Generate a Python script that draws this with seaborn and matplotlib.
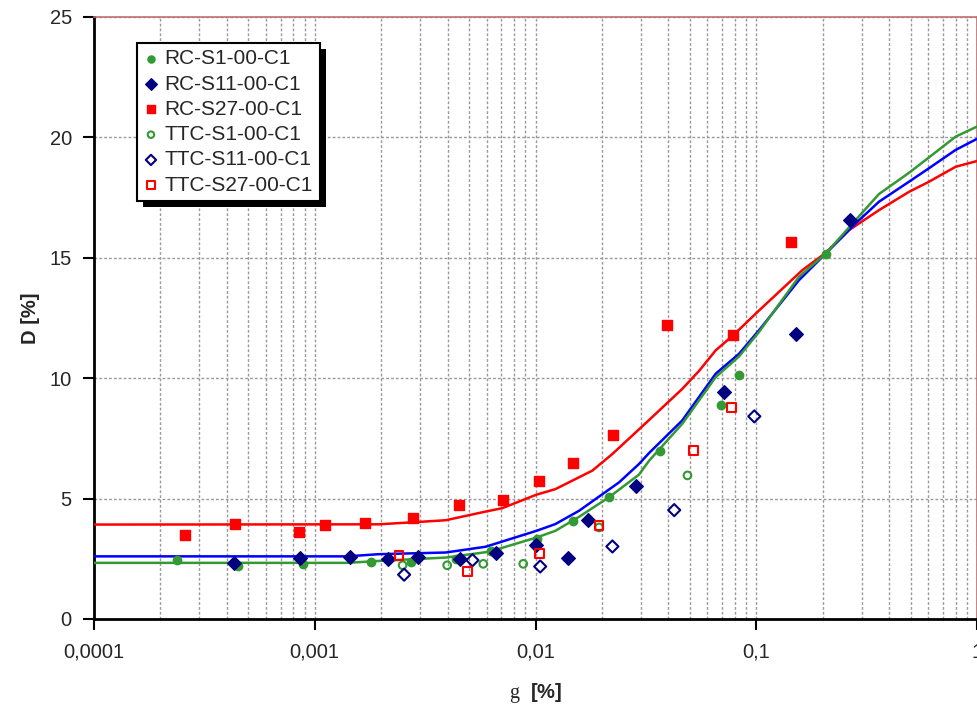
import numpy as np
import pandas as pd
import matplotlib
matplotlib.use("Agg")
import matplotlib.pyplot as plt
import seaborn as sns
from matplotlib.patches import Rectangle
from matplotlib.transforms import IdentityTransform

# ---------------- data ----------------
rc_s1_g = [0.000238, 0.000448, 0.000885, 0.0018, 0.00273, 0.00435, 0.00627, 0.01016, 0.0148, 0.0215, 0.0365, 0.0695, 0.0838, 0.2065]
rc_s1_d = [2.45, 2.2, 2.29, 2.38, 2.38, 2.48, 2.83, 3.33, 4.05, 5.05, 6.96, 8.87, 10.14, 15.13]

rc_s11_g = [0.00043, 0.00086, 0.00144, 0.00215, 0.00294, 0.00455, 0.0066, 0.0101, 0.0140, 0.0173, 0.0284, 0.0717, 0.151, 0.266]
rc_s11_d = [2.34, 2.52, 2.59, 2.51, 2.59, 2.51, 2.76, 3.09, 2.52, 4.1, 5.5, 9.43, 11.83, 16.58]

rc_s27_g = [0.000258, 0.000435, 0.00085, 0.00111, 0.00169, 0.00279, 0.0045, 0.00713, 0.0104, 0.0148, 0.0225, 0.0395, 0.0787, 0.144]
rc_s27_d = [3.48, 3.96, 3.63, 3.9, 3.98, 4.21, 4.73, 4.96, 5.71, 6.46, 7.62, 12.2, 11.78, 15.63]

ttc_s1_g = [0.0025, 0.00398, 0.0058, 0.0088, 0.0194, 0.0488]
ttc_s1_d = [2.23, 2.23, 2.29, 2.29, 3.8, 5.96]

ttc_s11_g = [0.00254, 0.00518, 0.0105, 0.0223, 0.0425, 0.098]
ttc_s11_d = [1.84, 2.44, 2.18, 3.01, 4.52, 8.41]

ttc_s27_g = [0.00241, 0.00491, 0.0104, 0.0194, 0.0519, 0.0771]
ttc_s27_d = [2.63, 1.98, 2.72, 3.87, 6.98, 8.79]

# fitted curves
red_g = [0.0001, 0.00195, 0.00297, 0.00392, 0.00595, 0.00707, 0.0101, 0.0123, 0.0181, 0.0223, 0.0327,
         0.0462, 0.0551, 0.0655, 0.0787, 0.1028, 0.1617, 0.2065, 0.263, 0.3597, 0.492, 0.606, 0.8, 1.0]
red_d = [3.92, 3.93, 4.03, 4.1, 4.46, 4.6, 5.16, 5.39, 6.16, 6.85, 8.26,
         9.55, 10.3, 11.15, 11.78, 12.8, 14.48, 15.2, 16.14, 16.97, 17.73, 18.15, 18.77, 19.01]

blue_g = [0.0001, 0.0014, 0.00195, 0.00392, 0.00595, 0.0101, 0.0123, 0.01574, 0.0239, 0.0294, 0.0327,
          0.0462, 0.0655, 0.0836, 0.1028, 0.156, 0.2065, 0.282, 0.3597, 0.492, 0.606, 0.8, 1.0]
blue_d = [2.6, 2.6, 2.69, 2.76, 3.0, 3.66, 3.94, 4.49, 5.67, 6.43, 6.89,
          8.24, 10.18, 11.01, 11.98, 14.06, 15.17, 16.42, 17.32, 18.15, 18.71, 19.47, 19.93]

green_g = [0.0001, 0.0014, 0.00195, 0.00392, 0.00615, 0.0101, 0.0123, 0.01574, 0.0215, 0.0294, 0.0327,
           0.0462, 0.0655, 0.0836, 0.1028, 0.156, 0.2065, 0.282, 0.3597, 0.492, 0.606, 0.8, 1.0]
green_d = [2.33, 2.33, 2.41, 2.55, 2.79, 3.38, 3.66, 4.24, 5.05, 5.99, 6.57,
           8.1, 10.04, 10.9, 11.91, 14.2, 15.17, 16.56, 17.64, 18.52, 19.16, 20.02, 20.44]

x_ticks = [0.0001, 0.001, 0.01, 0.1, 1]
x_tick_labels = ["0,0001", "0,001", "0,01", "0,1", "1"]
y_ticks = [0, 5, 10, 15, 20, 25]

GREEN = "#339933"
NAVY = "#000080"
RED = "#FF0000"
BLUE = "#0000FF"

# ---------------- style ----------------
sns.set_style("white")
plt.rcParams["font.family"] = ["Liberation Sans", "DejaVu Sans"]
plt.rcParams["mathtext.fontset"] = "custom"
plt.rcParams["mathtext.rm"] = "Liberation Serif"

fig = plt.figure(figsize=(9.78, 7.05), dpi=100)
ax = fig.add_axes([94 / 978, 1 - 619 / 705, 883 / 978, (619 - 16.7) / 705])

# curves
for g, d, c in [(red_g, red_d, RED), (blue_g, blue_d, BLUE), (green_g, green_d, GREEN)]:
    sns.lineplot(x=g, y=d, ax=ax, color=c, linewidth=1.8, sort=False, estimator=None, zorder=3)

# scatter series
series = [
    ("RC-S1-00-C1", rc_s1_g, rc_s1_d, "o", GREEN, GREEN, 36, 1.0),
    ("RC-S11-00-C1", rc_s11_g, rc_s11_d, "D", NAVY, NAVY, 48, 1.0),
    ("RC-S27-00-C1", rc_s27_g, rc_s27_d, "s", RED, RED, 44, 1.0),
    ("TTC-S1-00-C1", ttc_s1_g, ttc_s1_d, "o", "none", GREEN, 30, 1.5),
    ("TTC-S11-00-C1", ttc_s11_g, ttc_s11_d, "D", "none", NAVY, 38, 1.5),
    ("TTC-S27-00-C1", ttc_s27_g, ttc_s27_d, "s", "none", RED, 40, 1.5),
]
for label, g, d, m, fc, ec, s, lw in series:
    sns.scatterplot(x=g, y=d, ax=ax, marker=m, s=s, facecolor=fc, edgecolor=ec,
                    linewidth=lw, label=label, zorder=4)

ax.set_xscale("log")
ax.set_xlim(0.0001, 1)
ax.set_ylim(0, 25)
ax.set_xticks(x_ticks)
ax.set_xticklabels(x_tick_labels)
ax.xaxis.set_minor_locator(matplotlib.ticker.LogLocator(base=10, subs=np.arange(2, 10)))
ax.xaxis.set_minor_formatter(matplotlib.ticker.NullFormatter())
ax.set_yticks(y_ticks)

ax.grid(True, which="major", axis="both", color="#999999", linestyle=(0, (2, 1.5)), linewidth=1.0)
ax.grid(True, which="minor", axis="x", color="#999999", linestyle=(0, (2, 1.5)), linewidth=1.0)
ax.set_axisbelow(True)

ax.tick_params(axis="both", which="major", direction="out", length=8, width=1.5,
               labelsize=14.5, color="black", bottom=True, left=True)
ax.tick_params(axis="x", which="major", pad=9)
ax.tick_params(axis="y", which="major", pad=8)
ax.tick_params(axis="x", which="minor", length=0)

for side in ["left", "bottom"]:
    ax.spines[side].set_color("black")
    ax.spines[side].set_linewidth(2.0)
for side in ["top", "right"]:
    ax.spines[side].set_visible(True)
    ax.spines[side].set_color("#c07070")
    ax.spines[side].set_linewidth(1.2)

ax.set_ylabel("D [%]", fontsize=14.5, fontweight="bold", labelpad=7)
ax.set_xlabel(r"$\mathrm{g}$  [%]", fontsize=14.5, fontweight="bold", labelpad=14)

leg = ax.legend(loc="upper left", bbox_to_anchor=(43 / 883, 1 - 26 / 602), fontsize=15,
                frameon=True, fancybox=False, shadow=False, borderpad=0.32,
                labelspacing=0.3, handletextpad=0.3, handlelength=0.7,
                borderaxespad=0.0, markerscale=0.85)
leg.get_frame().set_edgecolor("black")
leg.get_frame().set_linewidth(1.5)
leg.get_frame().set_facecolor("white")
leg.get_frame().set_alpha(1.0)
leg.set_zorder(10)

# black drop shadow behind the legend
fig.canvas.draw()
bb = leg.get_window_extent()
shadow = Rectangle((bb.x0 + 6, bb.y0 - 6), bb.width, bb.height, transform=IdentityTransform(),
                   facecolor="black", edgecolor="none", zorder=9, clip_on=False)
ax.add_patch(shadow)

fig.savefig("out.png", dpi=100)
